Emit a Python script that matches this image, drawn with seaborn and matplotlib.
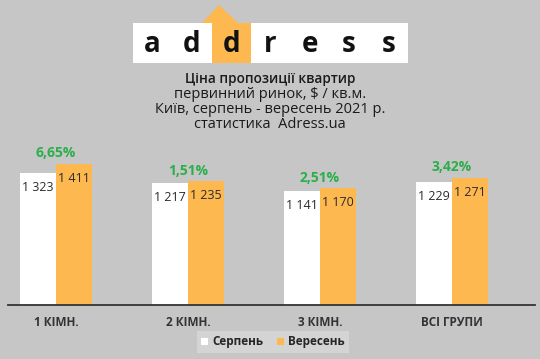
import pandas as pd
import matplotlib
matplotlib.use("Agg")
import matplotlib.pyplot as plt
import seaborn as sns
from matplotlib.patches import Rectangle, Polygon

# Chart data
CATEGORIES = ["1 КІМН.", "2 КІМН.", "3 КІМН.", "ВСІ ГРУПИ"]
AUGUST = [1323, 1217, 1141, 1229]
SEPTEMBER = [1411, 1235, 1170, 1271]
GROWTH = ["6,65%", "1,51%", "2,51%", "3,42%"]
SERIES = ["Серпень", "Вересень"]

BG = "#c6c6c6"
ORANGE = "#fdb94f"
GREEN = "#2aaf4a"
DARK = "#2b2b2b"

W, H = 540, 359


def fx(x):
    return x / W


def fy(y):
    return 1 - y / H


df = pd.DataFrame({
    "cat": CATEGORIES * 2,
    "value": AUGUST + SEPTEMBER,
    "month": [SERIES[0]] * 4 + [SERIES[1]] * 4,
})

sns.set_theme(style="white")
plt.rcParams["font.family"] = ["Open Sans", "DejaVu Sans"]

fig = plt.figure(figsize=(W / 100, H / 100), dpi=100, facecolor=BG)

# logo block
fig.patches.append(Rectangle((fx(133), fy(63)), fx(408) - fx(133), fy(23) - fy(63),
                             transform=fig.transFigure, facecolor="white", edgecolor="none"))
fig.patches.append(Polygon([(fx(202), fy(23)), (fx(219), fy(5)), (fx(238), fy(23))],
                           closed=True, transform=fig.transFigure, facecolor=ORANGE, edgecolor="none"))
cell = (408 - 133) / 7
fig.patches.append(Rectangle((fx(133 + 2 * cell), fy(63)), fx(cell), fy(23) - fy(63),
                             transform=fig.transFigure, facecolor=ORANGE, edgecolor="none"))
for i, ch in enumerate("address"):
    fig.text(fx(133 + cell * (i + 0.5)), fy(44), ch, ha="center", va="center",
             fontsize=20, fontweight="bold", color="#111111")

# header lines
fig.text(0.5, fy(79), "Ціна пропозиції квартир", ha="center", va="center",
         fontsize=9.8, fontweight="semibold", color="#1a1a1a")
for y, line in zip([94, 109, 124], ["первинний ринок, $ / кв.м.",
                                    "Київ, серпень - вересень 2021 р.",
                                    "статистика  Adress.ua"]):
    fig.text(0.5, fy(y), line, ha="center", va="center", fontsize=10.5, color="#1a1a1a")

# bars
ax = fig.add_axes([fx(8), fy(305), fx(535) - fx(8), fy(144) - fy(305)])
ax.set_facecolor("none")
sns.barplot(data=df, x="cat", y="value", hue="month", palette=["white", ORANGE],
            width=0.545, gap=0, saturation=1, ax=ax, linewidth=0)
ax.set_xlim((8 - 56) / 132, (535 - 56) / 132)
ax.set_ylim(0, 1610)

for container in ax.containers:
    ax.bar_label(container, labels=[f"{int(v):,}".replace(",", " ") for v in container.datavalues],
                 label_type="edge", padding=-15, fontsize=9, color=DARK)

for i, (a, b, g) in enumerate(zip(AUGUST, SEPTEMBER, GROWTH)):
    ax.annotate(g, (i, max(a, b)), xytext=(0, 7.5), textcoords="offset points",
                ha="center", va="center", fontsize=10, fontweight="bold", color=GREEN)

ax.set_xlabel("")
ax.set_ylabel("")
ax.set_yticks([])
ax.tick_params(axis="x", length=0, pad=8, labelsize=8.5, labelcolor="#333333")
for lbl in ax.get_xticklabels():
    lbl.set_fontweight("bold")
for s in ["top", "right", "left"]:
    ax.spines[s].set_visible(False)
ax.spines["bottom"].set_color("#333333")
ax.spines["bottom"].set_linewidth(1.3)

handles, labels = ax.get_legend_handles_labels()
ax.get_legend().remove()
fig.legend(handles, labels, loc="center", bbox_to_anchor=(fx(273), fy(342)), ncol=2,
           frameon=True, facecolor="#d4d4d4", edgecolor="none", fancybox=False,
           framealpha=1, handlelength=0.6, handleheight=0.6, handletextpad=0.3,
           columnspacing=1.2, borderpad=0.4,
           prop={"weight": "bold", "size": 8.5})

fig.savefig("out.png", dpi=100, facecolor=BG)
